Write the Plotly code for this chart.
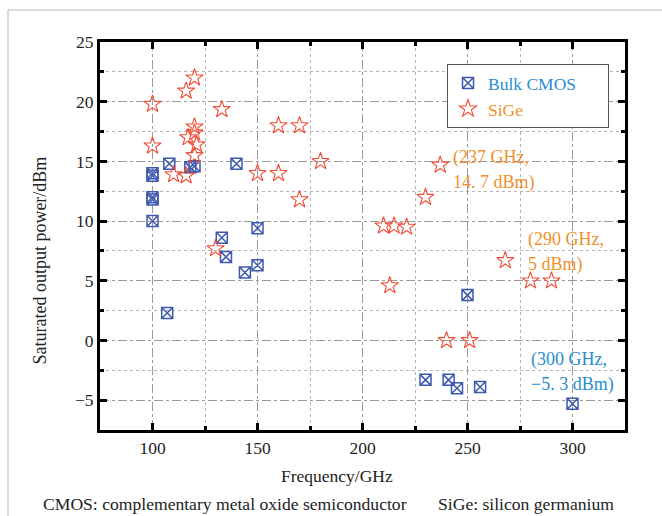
import plotly.graph_objects as go

# Bulk CMOS data (GHz, dBm)
cmos_freq = [100, 100, 100, 100, 100, 107, 108, 118, 120, 133, 135, 140, 144, 150, 150,
             230, 241, 245, 250, 256, 300]
cmos_psat = [13.8, 14.0, 11.8, 12.0, 10.0, 2.3, 14.8, 14.5, 14.6, 8.6, 7.0, 14.8, 5.7, 6.3, 9.4,
             -3.3, -3.3, -4.0, 3.8, -3.9, -5.3]

# SiGe data (GHz, dBm)
sige_freq = [100, 100, 110, 116, 116, 117, 120, 120, 120, 121, 120, 130, 133, 150, 160, 160,
             170, 170, 180, 210, 213, 215, 221, 230, 237, 240, 251, 268, 280, 290]
sige_psat = [19.8, 16.3, 13.9, 20.9, 13.8, 17.0, 22.0, 17.9, 17.4, 16.4, 15.5, 7.7, 19.35, 14.0, 18.0, 14.0,
             18.0, 11.8, 15.0, 9.6, 4.6, 9.6, 9.5, 12.0, 14.7, 0.0, 0.0, 6.7, 5.0, 5.0]

x_ticks = [100, 150, 200, 250, 300]
y_ticks = [-5, 0, 5, 10, 15, 20, 25]

SERIF = "Liberation Serif"
ORANGE = "#f0902a"
BLUE_TXT = "#2a8ccf"
SQ_BLUE = "#3f58b0"
STAR_RED = "#f04c36"
TXT = "#222222"
PAD = "\u00a0" * 6

fig = go.Figure()
fig.add_trace(go.Scatter(
    x=cmos_freq, y=cmos_psat, mode="markers",
    name=f"<span style='color:{BLUE_TXT}'>Bulk CMOS</span>{PAD}",
    marker=dict(symbol="square-x-open", size=11, color=SQ_BLUE, line=dict(width=1.5, color=SQ_BLUE)),
))
fig.add_trace(go.Scatter(
    x=sige_freq, y=sige_psat, mode="markers",
    name=f"<span style='color:{ORANGE}'>SiGe</span>",
    marker=dict(symbol="star-open", size=13, color=STAR_RED, line=dict(width=1.1, color=STAR_RED)),
))

axis_common = dict(
    showline=True, linecolor="black", linewidth=3, mirror="ticks",
    ticks="inside", ticklen=7, tickwidth=2.5, tickcolor="black",
    showgrid=True, gridcolor="#9a9a9a", gridwidth=1, griddash="dashdot",
    zeroline=False,
    tickfont=dict(family=SERIF, size=17.5, color=TXT),
)

fig.update_xaxes(
    range=[75, 325], tickvals=x_ticks, ticktext=[str(v) for v in x_ticks],
    minor=dict(dtick=25, tick0=0, ticks="inside", ticklen=4, tickwidth=2.5, tickcolor="black",
               showgrid=True, gridcolor="#b5b5b5", gridwidth=1, griddash="dot"),
    **axis_common,
)
fig.update_yaxes(
    range=[-7.5, 25], tickvals=y_ticks, ticktext=[("−5" if v == -5 else str(v)) for v in y_ticks],
    minor=dict(dtick=2.5, tick0=0, ticks="inside", ticklen=4, tickwidth=2.5, tickcolor="black",
               showgrid=True, gridcolor="#b5b5b5", gridwidth=1, griddash="dot"),
    **axis_common,
)

# axis titles (placed as in the reference, slightly off-centre)
fig.add_annotation(x=0.451, y=-0.118, xref="paper", yref="paper", text="Frequency/GHz",
                   showarrow=False, xanchor="center", yanchor="middle",
                   font=dict(family=SERIF, size=17.5, color=TXT))
fig.add_annotation(x=-0.114, y=0.437, xref="paper", yref="paper", text="Saturated output power/dBm",
                   showarrow=False, xanchor="center", yanchor="middle", textangle=-90,
                   font=dict(family=SERIF, size=18, color=TXT))

ann_font_o = dict(family=SERIF, size=18, color=ORANGE)
ann_font_b = dict(family=SERIF, size=18, color=BLUE_TXT)
annots = [
    (242.0, 15.3, "(237 GHz,", ann_font_o),
    (242.0, 13.2, "14. 7 dBm)", ann_font_o),
    (278.0, 8.45, "(290 GHz,", ann_font_o),
    (278.0, 6.35, "5 dBm)", ann_font_o),
    (279.5, -1.6, "(300 GHz,", ann_font_b),
    (279.5, -3.7, "−5. 3 dBm)", ann_font_b),
]
for ax, ay, t, f in annots:
    fig.add_annotation(x=ax, y=ay, xref="x", yref="y", text=t, showarrow=False,
                       xanchor="left", yanchor="middle", font=f)

# footnotes
fig.add_annotation(x=-0.113, y=-0.19, xref="paper", yref="paper",
                   text="CMOS: complementary metal oxide semiconductor", showarrow=False,
                   xanchor="left", yanchor="middle", font=dict(family=SERIF, size=17.6, color=TXT))
fig.add_annotation(x=0.64, y=-0.19, xref="paper", yref="paper",
                   text="SiGe: silicon germanium", showarrow=False,
                   xanchor="left", yanchor="middle", font=dict(family=SERIF, size=17.6, color=TXT))

# thin picture frame (left and top)
fig.add_shape(type="line", xref="paper", yref="paper", x0=-0.1752, x1=-0.1752, y0=1.0825, y1=-0.23,
              line=dict(color="#cfcfcf", width=1.5))
fig.add_shape(type="line", xref="paper", yref="paper", x0=-0.1752, x1=1.08, y0=1.0825, y1=1.0825,
              line=dict(color="#cfcfcf", width=1.5))

fig.update_layout(
    width=662, height=516,
    margin=dict(l=100, r=37, t=42, b=86),
    paper_bgcolor="white", plot_bgcolor="white",
    showlegend=True,
    font=dict(family=SERIF, size=17, color=TXT),
    legend=dict(x=0.661, y=0.943, xanchor="left", yanchor="top",
                bgcolor="white", bordercolor="#555", borderwidth=1,
                font=dict(family=SERIF, size=17.5), tracegroupgap=0,
                itemwidth=30),
)

fig.write_html("out.html")
